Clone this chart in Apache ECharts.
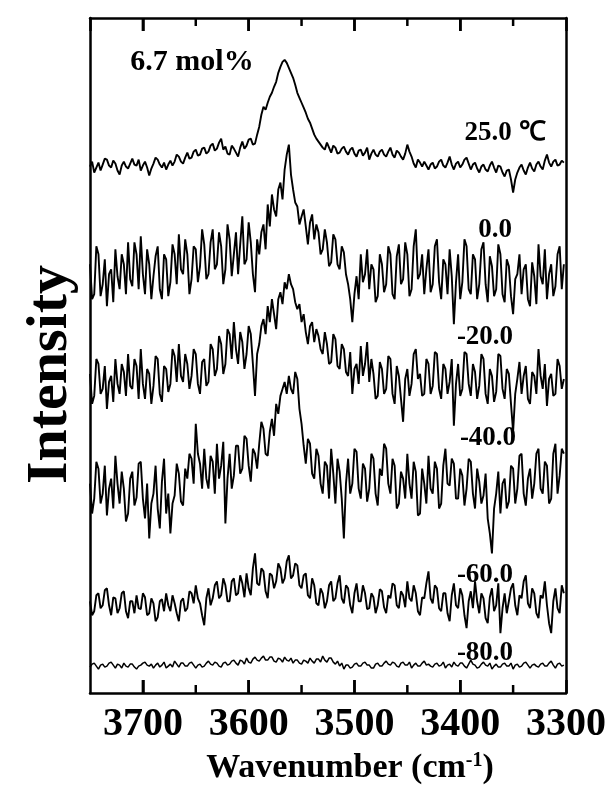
<!DOCTYPE html>
<html><head><meta charset="utf-8">
<script src="https://cdn.jsdelivr.net/npm/echarts@6/dist/echarts.min.js"></script>
<style>html,body{margin:0;padding:0;background:#fff}#c{width:610px;height:790px}</style>
</head><body><div id="c"></div>
<script>
// wavenumber grid (cm^-1), left (3750) to right (3302)
const wavenumbers = [
3750,3748,3746,3744,3742,3740,3738,3736,3734,3732,3730,3728,3726,3724,3722,3720,3718,3716,3714,3712,
3710,3708,3706,3704,3702,3700,3698,3696,3694,3692,3690,3688,3686,3684,3682,3680,3678,3676,3674,3672,
3670,3668,3666,3664,3662,3660,3658,3656,3654,3652,3650,3648,3646,3644,3642,3640,3638,3636,3634,3632,
3630,3628,3626,3624,3622,3620,3618,3616,3614,3612,3610,3608,3606,3604,3602,3600,3598,3596,3594,3592,
3590,3588,3586,3584,3582,3580,3578,3576,3574,3572,3570,3568,3566,3564,3562,3560,3558,3556,3554,3552,
3550,3548,3546,3544,3542,3540,3538,3536,3534,3532,3530,3528,3526,3524,3522,3520,3518,3516,3514,3512,
3510,3508,3506,3504,3502,3500,3498,3496,3494,3492,3490,3488,3486,3484,3482,3480,3478,3476,3474,3472,
3470,3468,3466,3464,3462,3460,3458,3456,3454,3452,3450,3448,3446,3444,3442,3440,3438,3436,3434,3432,
3430,3428,3426,3424,3422,3420,3418,3416,3414,3412,3410,3408,3406,3404,3402,3400,3398,3396,3394,3392,
3390,3388,3386,3384,3382,3380,3378,3376,3374,3372,3370,3368,3366,3364,3362,3360,3358,3356,3354,3352,
3350,3348,3346,3344,3342,3340,3338,3336,3334,3332,3330,3328,3326,3324,3322,3320,3318,3316,3314,3312,
3310,3308,3306,3304,3302];

// stacked (offset) intensities, arbitrary units
const t25 = [
528,533,522,527,532,524,530,536,535,529,527,534,531,524,520,529,533,528,526,531,
536,530,529,535,524,529,533,527,519,526,531,537,535,530,527,532,525,530,534,529,
533,540,538,533,531,537,542,536,537,543,545,539,540,546,547,541,543,549,551,544,
546,552,556,545,548,541,540,549,546,542,538,547,553,546,549,555,556,550,551,560,
568,580,588,585,592,598,602,608,613,622,628,633,635,632,627,622,617,610,602,597,
592,587,582,576,572,566,560,556,553,550,547,545,552,547,542,549,547,541,542,546,
548,543,540,545,547,541,538,544,545,539,542,547,535,541,545,540,538,543,545,540,
538,543,547,540,537,544,542,538,535,541,550,543,538,531,527,535,532,528,533,529,
525,530,532,526,528,533,535,529,527,532,538,530,525,531,533,527,530,535,537,531,
525,530,532,526,522,528,530,525,523,529,533,527,522,529,528,522,518,524,525,515,
502,515,522,527,530,524,520,527,532,526,523,530,533,528,525,534,540,532,528,533,
535,529,530,534,532];
const t0 = [
430,395,400,448,440,398,410,435,388,420,425,392,445,418,405,440,430,400,452,415,
408,452,440,405,458,420,400,445,430,395,418,438,448,405,395,440,435,398,412,450,
440,410,460,425,420,455,440,400,415,448,445,412,428,465,450,415,420,452,465,425,
430,462,448,410,425,470,455,418,440,462,420,450,478,430,435,472,452,420,402,455,
440,462,470,445,490,468,500,485,478,505,512,495,525,540,550,520,505,492,488,470,
478,485,468,450,472,480,455,470,462,440,445,465,452,428,432,460,455,430,425,448,
442,420,410,395,372,400,418,395,440,412,420,445,405,430,425,392,398,440,430,402,
410,448,440,400,395,438,450,410,415,452,440,398,405,448,465,415,420,440,400,425,
445,402,410,448,455,412,395,435,430,400,445,418,370,412,440,395,412,455,448,405,
400,440,435,395,410,445,452,410,392,438,428,398,405,450,440,400,392,435,428,398,
380,415,420,440,400,425,430,395,388,432,418,390,450,418,410,445,395,420,430,398,
408,440,448,405,430];
const tm20 = [
320,290,298,335,330,300,305,328,285,312,318,292,335,310,300,330,322,298,340,308,
305,335,328,295,345,310,295,325,320,290,308,338,335,300,292,328,325,302,310,345,
338,312,350,318,312,340,330,305,318,345,340,310,300,332,335,308,312,350,345,318,
325,358,350,320,330,365,360,335,372,345,330,362,352,325,340,368,360,330,298,340,
350,368,375,360,388,372,395,380,365,395,402,390,412,405,420,410,405,392,385,390,
372,380,362,350,368,372,352,365,358,345,340,362,350,330,332,360,355,328,325,350,
345,322,318,342,300,325,330,310,348,318,330,352,312,335,320,295,298,332,325,300,
305,338,335,300,290,328,318,295,272,315,325,298,310,340,345,315,320,298,300,335,
330,300,308,342,340,305,295,330,325,300,312,335,268,310,330,298,305,342,340,310,
298,330,322,295,308,340,335,300,290,325,318,292,302,340,338,305,295,325,320,290,
262,300,315,332,300,318,328,295,290,322,318,300,345,318,305,330,288,315,320,298,
300,335,328,305,315];
const tm40 = [
210,180,195,232,225,190,200,228,178,205,215,185,238,210,190,222,205,172,180,215,
222,188,196,230,232,195,175,210,155,190,200,228,185,165,212,235,180,200,160,190,
198,230,220,192,188,225,215,240,235,210,270,240,230,205,245,215,205,238,232,200,
250,215,228,252,170,215,240,205,218,248,248,220,225,258,255,228,212,245,240,225,
250,272,265,240,238,262,275,258,290,280,298,305,312,300,318,305,300,322,315,285,
270,248,230,255,250,220,215,245,238,210,200,232,228,195,245,220,190,235,222,195,
155,210,235,200,210,245,242,205,195,230,225,192,205,240,235,200,188,225,218,250,
245,210,200,235,228,185,190,222,215,195,240,210,195,232,222,178,180,225,210,190,
238,205,200,232,225,185,190,228,245,210,208,235,230,195,195,225,218,188,205,235,
232,200,185,225,212,190,198,220,175,160,140,185,200,222,180,210,215,185,192,228,
225,190,205,238,240,200,188,215,225,195,210,240,245,205,200,232,228,190,195,240,
250,200,218,245,240];
const tm60 = [
92,78,82,98,100,85,88,103,105,88,78,96,95,80,85,100,102,82,75,92,
92,80,98,85,84,100,96,78,80,95,90,72,76,92,94,82,100,88,82,98,
90,80,72,92,95,82,85,102,100,90,108,95,90,78,68,95,105,88,95,108,
112,95,98,115,108,92,92,112,115,98,100,118,110,96,120,105,98,125,140,110,
108,125,122,102,95,120,118,105,112,130,125,110,115,132,138,115,118,130,128,108,
105,118,120,98,95,115,108,90,88,105,100,85,92,108,112,92,95,110,118,95,
90,108,105,88,80,100,110,92,92,108,100,84,85,100,96,80,88,104,102,86,
80,98,95,110,108,88,85,102,98,86,112,95,92,108,100,82,78,96,95,110,
122,95,90,108,105,85,82,100,100,80,72,98,110,88,85,105,98,78,65,92,
102,85,112,92,80,100,95,75,70,96,105,82,88,110,60,85,100,80,92,105,
110,88,78,98,95,112,118,90,85,105,100,80,75,98,95,112,88,70,60,92,
105,85,80,108,100];
const tm80 = [
26,29,30,27,24,28,29,26,27,30,31,28,25,29,28,25,30,27,26,29,
29,26,24,27,28,30,31,28,27,29,25,28,30,26,28,31,25,27,29,26,
32,29,26,30,30,27,27,30,31,28,25,28,29,26,27,30,32,29,28,31,
30,27,26,30,31,28,29,32,33,30,28,33,32,29,35,31,30,34,36,33,
32,35,37,33,33,36,36,32,31,35,34,31,36,33,32,35,30,33,33,30,
29,33,32,30,35,32,30,34,34,31,37,33,31,35,35,31,29,32,27,30,
24,28,28,25,26,29,30,27,27,30,31,28,28,25,25,29,30,27,27,30,
32,29,28,31,30,27,26,30,31,28,28,31,25,28,30,27,27,30,32,28,
29,27,26,29,30,27,28,31,25,28,29,26,31,28,27,30,30,27,25,29,
33,29,28,25,26,29,31,28,27,30,24,27,29,26,26,29,30,27,27,30,
24,28,29,26,27,30,31,28,25,28,29,27,26,29,30,27,27,30,32,28,
25,29,30,27,28];

const traceNames = ['25.0 ℃','0.0','-20.0','-40.0','-60.0','-80.0'];
const traces = [t25, t0, tm20, tm40, tm60, tm80];
const sampleLabel = '6.7 mol%';
const xTickLabels = [3300, 3400, 3500, 3600, 3700];
const majorTicks = [3700, 3600, 3500, 3400];
const minorTicks = [3650, 3550, 3450, 3350];

const FONT = "'Liberation Serif','Times New Roman',serif";
const Y_MIN = 0, Y_MAX = 677;
const chart = echarts.init(document.getElementById('c'), null, {renderer: 'canvas'});

const series = traces.map((arr, k) => ({
  name: traceNames[k], type: 'line', showSymbol: false, symbol: 'none',
  xAxisIndex: 0, yAxisIndex: 0,
  data: wavenumbers.map((w, i) => [w, arr[i]]),
  lineStyle: {color: '#000', width: k === 5 ? 1.5 : 1.9},
  itemStyle: {color: '#000'}, animation: false
}));

// inward frame ticks: short vertical segments at each tick value, drawn through the axis scales
function addTickSeries(values, len) {
  values.forEach(v => {
    [[Y_MIN, Y_MIN + len], [Y_MAX, Y_MAX - len]].forEach(seg => {
      series.push({
        type: 'line', xAxisIndex: 0, yAxisIndex: 0, showSymbol: false, symbol: 'none',
        silent: true, animation: false, z: 5, clip: false,
        data: [[v, seg[0]], [v, seg[1]]],
        lineStyle: {color: '#000', width: 2.5}, itemStyle: {color: '#000'}
      });
    });
  });
}
addTickSeries(majorTicks, 13);
addTickSeries(minorTicks, 8);

const labelPos = [[505,133],[495,230],[485,337],[488,438],[485,575],[485,653]];
const textGraphics = traceNames.map((t, k) => ({
  type: 'text', x: labelPos[k][0], y: labelPos[k][1],
  style: {text: t, fill: '#000', font: "bold 27px " + FONT, textAlign: 'center', textVerticalAlign: 'middle'}
}));
textGraphics.push({type: 'text', x: 192, y: 62,
  style: {text: sampleLabel, fill: '#000', font: "bold 30px " + FONT, textAlign: 'center', textVerticalAlign: 'middle'}});

function makeX(pos, opts) {
  return Object.assign({
    type: 'value', position: pos, inverse: true, min: 3300, max: 3750, interval: 100,
    axisLine: {show: true, onZero: false, lineStyle: {color: '#000', width: 2.5}},
    axisTick: {show: true, inside: true, length: 13, lineStyle: {color: '#000', width: 2.5}},
    splitLine: {show: false},
    axisLabel: {show: false}
  }, opts);
}

const xBottom = makeX('bottom', {
  axisLabel: {
    show: true, margin: 12, color: '#000', fontSize: 40, fontWeight: 'bold', fontFamily: FONT,
    showMaxLabel: false,
    formatter: v => xTickLabels.indexOf(v) >= 0 ? String(v) : ''
  },
  name: '{a|Wavenumber (cm}{b|-1}{a|)}', nameLocation: 'middle', nameGap: 58,
  nameTextStyle: {color: '#000', fontFamily: FONT, fontWeight: 'bold', fontSize: 34, padding: [0, 0, 0, 44],
    rich: {a: {fontSize: 34, fontWeight: 'bold', fontFamily: FONT, color: '#000'},
           b: {fontSize: 20, fontWeight: 'bold', fontFamily: FONT, color: '#000', verticalAlign: 'top'}}}
});

chart.setOption({
  backgroundColor: '#fff',
  animation: false,
  grid: {left: 90, right: 44, top: 18, bottom: 95, containLabel: false},
  xAxis: [xBottom, makeX('top', {})],
  yAxis: [
    {type: 'value', min: Y_MIN, max: Y_MAX, position: 'left',
     axisLine: {show: true, onZero: false, lineStyle: {color: '#000', width: 2.5}},
     axisTick: {show: false}, axisLabel: {show: false}, splitLine: {show: false},
     name: 'Intensity', nameLocation: 'middle', nameRotate: 90, nameGap: 10,
     nameTextStyle: {color: '#000', fontFamily: FONT, fontWeight: 'bold', fontSize: 58, padding: [0, 38, 0, 0]}},
    {type: 'value', min: Y_MIN, max: Y_MAX, position: 'right',
     axisLine: {show: true, onZero: false, lineStyle: {color: '#000', width: 2.5}},
     axisTick: {show: false}, axisLabel: {show: false}, splitLine: {show: false}}
  ],
  series: series,
  graphic: textGraphics
});
</script>
</body></html>
